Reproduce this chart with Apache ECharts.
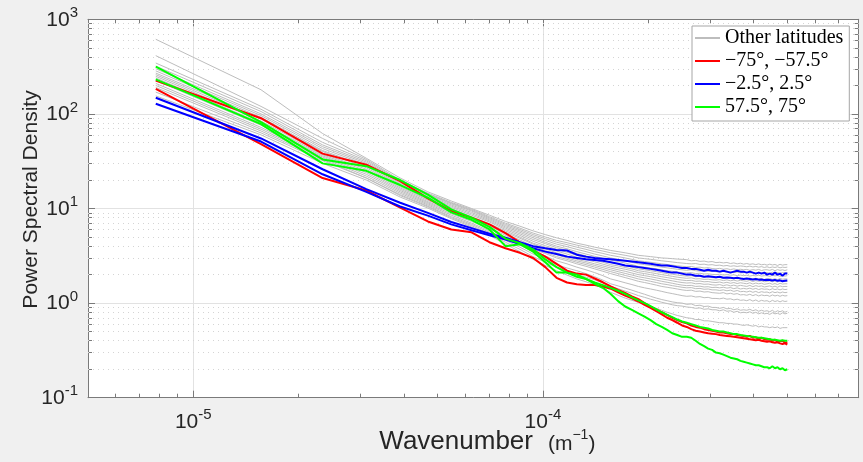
<!DOCTYPE html>
<html><head><meta charset="utf-8">
<script src="https://cdn.jsdelivr.net/npm/echarts@6/dist/echarts.min.js"></script>
<style>html,body{margin:0;padding:0;background:#f0f0f0}#c{width:863px;height:462px}</style>
</head><body><div id="c"></div>
<script>
// Wavenumber, in units of 1e-6 m^-1
const wavenumberMicro = [
 7.8125, 15.625, 23.4375, 31.25, 39.0625, 46.875, 54.6875, 62.5,
 70.3125, 78.125, 85.9375, 93.75, 101.5625, 109.375, 117.1875, 125,
 132.8125, 140.625, 148.4375, 156.25, 164.0625, 171.875, 179.6875, 187.5,
 195.3125, 203.125, 210.9375, 218.75, 226.5625, 234.375, 242.1875, 250,
 257.8125, 265.625, 273.4375, 281.25, 289.0625, 296.875, 304.6875, 312.5,
 320.3125, 328.125, 335.9375, 343.75, 351.5625, 359.375, 367.1875, 375,
 382.8125, 390.625, 398.4375, 406.25, 414.0625, 421.875, 429.6875, 437.5,
 445.3125, 453.125, 460.9375, 468.75, 476.5625, 484.375, 492.1875, 500
];

const gray01 = [615,180,62,34,21,15,12,10, 8.5,7.3,6.5,5.8,5.3,4.9,4.6,4.3, 4.1,3.9,3.75,3.6,3.5,3.4,3.3,3.2, 3.15,3.1,3.05,3.0,2.98,2.95,2.92,2.9, 2.88,2.8,2.83,2.76,2.78,2.72,2.75,2.68, 2.7,2.66,2.69,2.62,2.66,2.6,2.64,2.58, 2.62,2.57,2.6,2.55,2.6,2.54,2.57,2.52, 2.58,2.53,2.56,2.5,2.57,2.52,2.55,2.55];
const gray02 = [413,120,55,33,20,14.5,11.6,9.8, 8.2,7.0,6.2,5.5,5.0,4.6,4.35,4.1, 3.9,3.7,3.55,3.4,3.3,3.2,3.1,3.0, 2.95,2.9,2.85,2.8,2.76,2.72,2.68,2.65, 2.62,2.6,2.62,2.56,2.58,2.53,2.55,2.5, 2.52,2.47,2.5,2.45,2.48,2.44,2.47,2.45, 2.42,2.46,2.41,2.44,2.4,2.43,2.38,2.42, 2.37,2.41,2.38,2.42,2.36,2.4,2.38,2.4];
const gray03 = [345,112,50,32,19.5,14.2,11.4,9.6, 8.0,6.8,6.0,5.3,4.8,4.4,4.15,3.9, 3.7,3.5,3.35,3.2,3.1,3.0,2.9,2.8, 2.75,2.7,2.65,2.6,2.56,2.52,2.48,2.45, 2.42,2.44,2.38,2.4,2.35,2.37,2.32,2.3, 2.33,2.28,2.31,2.26,2.3,2.25,2.28,2.25, 2.27,2.22,2.26,2.23,2.27,2.21,2.25,2.25, 2.22,2.27,2.2,2.26,2.22,2.25,2.21,2.25];
const gray04 = [320,106,47,31,19,14,11.2,9.4, 7.8,6.6,5.8,5.1,4.6,4.2,3.95,3.7, 3.5,3.3,3.15,3.0,2.9,2.8,2.7,2.6, 2.55,2.5,2.45,2.4,2.36,2.32,2.28,2.25, 2.22,2.25,2.2,2.18,2.2,2.16,2.18,2.15, 2.13,2.16,2.12,2.14,2.1,2.13,2.09,2.1, 2.12,2.08,2.11,2.07,2.12,2.1,2.08,2.1, 2.07,2.12,2.08,2.11,2.06,2.1,2.08,2.1];
const gray05 = [300,100,45,30,18.5,13.6,10.9,9.1, 7.6,6.4,5.6,4.9,4.4,4.0,3.75,3.5, 3.3,3.12,2.98,2.85,2.75,2.65,2.55,2.45, 2.4,2.35,2.3,2.25,2.2,2.17,2.13,2.1, 2.08,2.1,2.05,2.07,2.03,2.04,2.01,2.0, 2.02,1.98,2.0,1.97,1.99,1.95,1.98,1.95, 1.97,1.93,1.96,1.94,1.97,1.93,1.95,1.95, 1.92,1.97,1.94,1.96,1.92,1.95,1.93,1.95];
const gray06 = [285,96,43,29,18,13.2,10.6,8.8, 7.4,6.2,5.4,4.7,4.25,3.85,3.6,3.35, 3.15,2.98,2.84,2.7,2.6,2.5,2.4,2.3, 2.25,2.2,2.15,2.1,2.05,2.02,1.98,1.95, 1.93,1.95,1.9,1.92,1.88,1.89,1.86,1.85, 1.87,1.83,1.86,1.82,1.85,1.81,1.84,1.82, 1.8,1.84,1.79,1.83,1.8,1.82,1.78,1.8, 1.82,1.78,1.81,1.77,1.82,1.79,1.8,1.8];
const gray07 = [270,92,41,28,17.5,12.9,10.3,8.5, 7.2,6.0,5.2,4.5,4.05,3.7,3.45,3.2, 3.0,2.85,2.7,2.55,2.47,2.38,2.3,2.2, 2.15,2.1,2.05,2.0,1.96,1.92,1.88,1.85, 1.83,1.85,1.8,1.81,1.78,1.79,1.76,1.75, 1.77,1.73,1.76,1.72,1.75,1.71,1.74,1.72, 1.7,1.74,1.69,1.73,1.7,1.72,1.68,1.7, 1.72,1.68,1.71,1.67,1.72,1.69,1.7,1.7];
const gray08 = [260,88,40,27,17,12.5,10,8.2, 6.9,5.8,5.0,4.3,3.9,3.55,3.3,3.05, 2.88,2.73,2.58,2.45,2.36,2.28,2.2,2.1, 2.05,2.0,1.95,1.9,1.86,1.82,1.78,1.75, 1.73,1.74,1.7,1.71,1.68,1.69,1.66,1.65, 1.67,1.63,1.66,1.62,1.65,1.61,1.64,1.62, 1.6,1.64,1.59,1.63,1.6,1.62,1.58,1.6, 1.62,1.58,1.61,1.57,1.62,1.59,1.6,1.6];
const gray09 = [250,84,38,26,16.5,12.2,9.7,8.0, 6.7,5.6,4.85,4.2,3.75,3.4,3.15,2.9, 2.75,2.6,2.47,2.35,2.25,2.17,2.08,2.0, 1.95,1.9,1.85,1.8,1.76,1.72,1.68,1.65, 1.63,1.64,1.6,1.61,1.58,1.59,1.56,1.55, 1.57,1.53,1.56,1.52,1.55,1.51,1.54,1.52, 1.5,1.54,1.49,1.53,1.5,1.52,1.48,1.5, 1.52,1.48,1.51,1.47,1.52,1.49,1.5,1.5];
const gray10 = [240,80,37,25,16,11.8,9.4,7.7, 6.5,5.4,4.65,4.0,3.6,3.25,3.0,2.8, 2.65,2.5,2.37,2.25,2.15,2.06,1.98,1.9, 1.85,1.8,1.75,1.7,1.66,1.62,1.58,1.55, 1.53,1.54,1.5,1.51,1.48,1.49,1.46,1.47, 1.45,1.47,1.44,1.46,1.42,1.45,1.41,1.43, 1.41,1.44,1.4,1.43,1.39,1.42,1.4,1.41, 1.38,1.42,1.39,1.41,1.38,1.41,1.39,1.4];
const gray11 = [225,76,36,24,15.5,11.5,9.1,7.5, 6.3,5.2,4.45,3.8,3.45,3.1,2.9,2.7, 2.55,2.4,2.27,2.15,2.05,1.96,1.88,1.8, 1.75,1.7,1.65,1.6,1.57,1.53,1.5,1.47, 1.45,1.46,1.42,1.43,1.4,1.41,1.38,1.38, 1.36,1.38,1.35,1.37,1.33,1.36,1.32,1.33, 1.31,1.34,1.3,1.33,1.29,1.32,1.3,1.31, 1.28,1.32,1.29,1.31,1.28,1.31,1.29,1.3];
const gray12 = [210,72,35,23,15,11.2,8.8,7.3, 6.1,5.0,4.3,3.7,3.35,3.0,2.8,2.6, 2.45,2.3,2.17,2.05,1.95,1.86,1.78,1.7, 1.65,1.6,1.55,1.5,1.47,1.44,1.41,1.38, 1.36,1.37,1.33,1.34,1.31,1.32,1.29,1.28, 1.27,1.29,1.25,1.27,1.24,1.26,1.22,1.23, 1.21,1.24,1.2,1.23,1.19,1.22,1.2,1.21, 1.18,1.22,1.19,1.21,1.18,1.21,1.19,1.2];
const gray13 = [200,69,34,22,14.5,10.9,8.5,7.0, 5.8,4.8,4.1,3.5,3.15,2.8,2.6,2.4, 2.25,2.1,1.95,1.8,1.72,1.64,1.57,1.5, 1.45,1.41,1.37,1.33,1.29,1.26,1.23,1.2, 1.18,1.19,1.16,1.17,1.14,1.15,1.12,1.12, 1.11,1.13,1.1,1.11,1.08,1.1,1.07,1.08, 1.06,1.09,1.05,1.08,1.04,1.07,1.05,1.06, 1.03,1.07,1.04,1.06,1.03,1.06,1.04,1.05];
const gray14 = [190,66,33,21,14,10.6,8.2,6.8, 5.6,4.6,3.9,3.3,2.9,2.55,2.35,2.2, 2.05,1.9,1.75,1.6,1.52,1.44,1.37,1.3, 1.24,1.18,1.13,1.09,1.06,1.03,1.01,1.0, 0.97,0.98,0.94,0.95,0.92,0.93,0.9,0.9, 0.88,0.9,0.87,0.88,0.85,0.87,0.84,0.85, 0.84,0.86,0.83,0.85,0.82,0.84,0.82,0.83, 0.81,0.84,0.8,0.83,0.81,0.83,0.8,0.82];
const gray15 = [170,63,32,21,13.7,10.4,8.0,6.6, 5.4,4.4,3.7,3.1,2.7,2.4,2.2,2.0, 1.88,1.76,1.63,1.5,1.42,1.34,1.27,1.2, 1.15,1.1,1.06,1.02,0.99,0.96,0.94,0.93, 0.91,0.9,0.88,0.89,0.86,0.87,0.85,0.85, 0.83,0.85,0.82,0.83,0.8,0.82,0.79,0.8, 0.79,0.81,0.78,0.8,0.77,0.79,0.77,0.78, 0.76,0.79,0.77,0.78,0.76,0.79,0.77,0.78];
const gray16 = [155,60,30,20,13.2,10.1,7.8,6.4, 5.2,4.2,3.5,2.9,2.5,2.2,1.98,1.8, 1.68,1.56,1.43,1.3,1.21,1.13,1.07,1.02, 0.97,0.92,0.88,0.84,0.8,0.77,0.74,0.72, 0.7,0.69,0.67,0.67,0.65,0.65,0.64,0.63, 0.62,0.62,0.61,0.61,0.6,0.6,0.59,0.58, 0.59,0.58,0.57,0.58,0.56,0.57,0.56,0.56, 0.55,0.56,0.55,0.56,0.54,0.55,0.55,0.55];

// -75°, -57.5°
const redA = [225,90,38,29,19.5,12.8,9.4,8.0, 6.8,5.5,4.4,3.6,3.1,2.6,2.2,2.05, 2.0,1.82,1.66,1.5,1.38,1.28,1.18,1.1, 1.0,0.92,0.86,0.8,0.75,0.7,0.66,0.63, 0.61,0.58,0.56,0.55,0.53,0.52,0.51,0.5, 0.49,0.49,0.48,0.47,0.47,0.46,0.455,0.45, 0.44,0.45,0.43,0.435,0.42,0.43,0.415,0.41, 0.415,0.4,0.41,0.39,0.395,0.4,0.38,0.385];
const redB = [184,48,21,15.5,10.2,7.3,6.0,5.6, 4.4,3.8,3.4,3.0,2.4,1.85,1.65,1.58, 1.55,1.55,1.5,1.42,1.3,1.2,1.12,1.04, 0.96,0.89,0.82,0.76,0.7,0.66,0.62,0.58, 0.56,0.53,0.51,0.5,0.49,0.48,0.475,0.47, 0.46,0.455,0.45,0.445,0.44,0.435,0.43,0.425, 0.42,0.415,0.41,0.405,0.41,0.4,0.395,0.39, 0.395,0.385,0.38,0.385,0.375,0.37,0.375,0.365];
// -2.5°, 2.5°
const blueA = [148,55,26,16,11.5,9.0,7.2,6.2, 5.4,4.9,4.4,4.0,3.8,3.65,3.6,3.25, 3.1,3.0,2.95,2.9,2.85,2.8,2.75,2.7, 2.65,2.6,2.55,2.5,2.5,2.45,2.4,2.35, 2.35,2.3,2.3,2.25,2.2,2.25,2.2,2.2, 2.15,2.2,2.15,2.1,2.15,2.2,2.15,2.15, 2.1,2.15,2.1,2.05,2.1,2.05,2.1,2.0, 2.05,2.0,2.1,2.0,2.05,1.95,2.05,2.05];
const blueB = [128,51,23,15,10.5,8.4,6.8,5.9, 5.2,4.7,4.2,3.8,3.5,3.3,3.1,3.0, 2.9,2.85,2.8,2.7,2.6,2.5,2.45,2.4, 2.35,2.3,2.25,2.2,2.15,2.1,2.1,2.05, 2.0,2.0,1.95,1.95,1.9,1.92,1.9,1.88, 1.9,1.85,1.87,1.85,1.83,1.85,1.82,1.8, 1.82,1.8,1.78,1.8,1.77,1.78,1.75,1.77, 1.75,1.73,1.76,1.72,1.74,1.7,1.72,1.73];
// 57.5°, 75°
const greenA = [316,82,33,28,20,14,9.8,8.0, 6.4,4.8,4.3,3.7,2.9,2.4,2.1,1.9, 1.8,1.65,1.55,1.45,1.35,1.25,1.15,1.07, 1.0,0.93,0.86,0.8,0.75,0.71,0.67,0.64, 0.62,0.6,0.58,0.56,0.55,0.54,0.52,0.51, 0.5,0.5,0.49,0.48,0.47,0.47,0.46,0.455, 0.45,0.445,0.44,0.435,0.43,0.43,0.425,0.42, 0.415,0.41,0.41,0.405,0.4,0.405,0.4,0.4];
const greenB = [232,78,30,25,17.7,13,9.1,7.6, 6.0,4.0,4.2,3.5,2.7,2.1,2.1,2.0, 1.8,1.6,1.45,1.25,1.05,0.92,0.85,0.78, 0.72,0.66,0.6,0.56,0.52,0.48,0.46,0.44, 0.44,0.43,0.4,0.37,0.35,0.33,0.32,0.3, 0.295,0.285,0.275,0.265,0.26,0.255,0.245,0.24, 0.235,0.23,0.225,0.22,0.22,0.215,0.21,0.21, 0.205,0.215,0.205,0.21,0.2,0.205,0.195,0.2];

const otherLatitudes = [gray01,gray02,gray03,gray04,gray05,gray06,gray07,gray08,gray09,gray10,gray11,gray12,gray13,gray14,gray15,gray16];

const legendNames = ['Other latitudes', '\u221275\u00b0, \u221257.5\u00b0', '\u22122.5\u00b0, 2.5\u00b0', '57.5\u00b0, 75\u00b0'];
const xRange = [5e-6, 8e-4];
const yRange = [0.1, 1000];
const xMinorTicks = [6e-6,7e-6,8e-6,9e-6,2e-5,3e-5,4e-5,5e-5,6e-5,7e-5,8e-5,9e-5,2e-4,3e-4,4e-4,5e-4,6e-4,7e-4];
const yMinorTicks = [0.2,0.3,0.4,0.5,0.6,0.7,0.8,0.9,2,3,4,5,6,7,8,9,20,30,40,50,60,70,80,90,200,300,400,500,600,700,800,900];

const FONT = 'Liberation Sans';
const TXT = '#262626';
const AX = '#7a7a7a';
const richX = {
  b: {fontFamily: FONT, fontSize: 21, lineHeight: 22, color: TXT, verticalAlign: 'bottom'},
  s: {fontFamily: FONT, fontSize: 15, lineHeight: 15, color: TXT, padding: [0,0,10,0], verticalAlign: 'bottom'}
};
const richY = {
  b: {fontFamily: FONT, fontSize: 21, lineHeight: 22, color: TXT, verticalAlign: 'bottom'},
  s: {fontFamily: FONT, fontSize: 15, lineHeight: 15, color: TXT, padding: [9,0,10,0], verticalAlign: 'bottom'}
};
function powLabel(v) {
  const e = Math.log10(v);
  const r = Math.round(e);
  if (Math.abs(e - r) > 1e-6) return '';
  return '{b|10}{s|' + r + '}';
}
function toPairs(vals) { return wavenumberMicro.map((w, i) => [w * 1e-6, vals[i]]); }

function mainAxis(kind, pos, showLabel, extra) {
  const range = kind === 'x' ? xRange : yRange;
  return Object.assign({
    type: 'log', logBase: 10, min: range[0], max: range[1], position: pos,
    axisLine: {show: true, onZero: false, lineStyle: {color: AX, width: 1}},
    axisTick: {show: true, inside: true, length: 7, lineStyle: {color: AX, width: 1}},
    axisLabel: showLabel ? {show: true, formatter: powLabel, rich: kind === 'x' ? richX : richY,
                             margin: kind === 'x' ? 13 : 10,
                             showMinLabel: true, showMaxLabel: true, hideOverlap: false} : {show: false},
    splitLine: {show: false},
    minorTick: {show: false}
  }, extra || {});
}
function minorAxis(kind, pos) {
  const range = kind === 'x' ? xRange : yRange;
  return {
    type: 'log', logBase: 10, min: range[0], max: range[1], position: pos,
    axisLine: {show: false},
    axisTick: {show: true, inside: true, length: 4, lineStyle: {color: AX, width: 1},
               customValues: kind === 'x' ? xMinorTicks : yMinorTicks},
    axisLabel: {show: false},
    splitLine: {show: false}
  };
}

const series = [];
otherLatitudes.forEach((vals, i) => {
  const s = {
    type: 'line', name: legendNames[0], xAxisIndex: 0, yAxisIndex: 0,
    data: toPairs(vals), symbol: 'none', showSymbol: false, z: 3,
    lineStyle: {color: '#bdbdbd', width: 1}, itemStyle: {color: '#bdbdbd'},
    silent: true, animation: false
  };
  if (i === 0) {
    s.markLine = {
      silent: true, symbol: ['none','none'], animation: false, z: 1,
      label: {show: false}, emphasis: {disabled: true},
      lineStyle: {color: '#d4d4d4', width: 1, type: [1, 4]},
      data: xMinorTicks.map(v => ({xAxis: v})).concat(yMinorTicks.map(v => ({yAxis: v})))
    };
  }
  series.push(s);
});
[[redA, 1, '#ff0000'], [redB, 1, '#ff0000'], [blueA, 2, '#0000ff'], [blueB, 2, '#0000ff'],
 [greenA, 3, '#00ff00'], [greenB, 3, '#00ff00']].forEach(([vals, li, col]) => {
  series.push({
    type: 'line', name: legendNames[li], xAxisIndex: 0, yAxisIndex: 0,
    data: toPairs(vals), symbol: 'none', showSymbol: false, z: 4,
    lineStyle: {color: col, width: 2}, itemStyle: {color: col},
    silent: true, animation: false
  });
});

const option = {
  backgroundColor: '#f0f0f0',
  animation: false,
  grid: {left: 88, right: 4.3, top: 19.3, bottom: 64.3, show: true, backgroundColor: '#ffffff',
         borderWidth: 0, containLabel: false, outerBoundsMode: 'none'},
  legend: {
    data: legendNames, orient: 'vertical', left: 692, top: 26,
    icon: 'rect', itemWidth: 25, itemHeight: 2, itemGap: 3,
    padding: [2, 6, 4, 3], backgroundColor: '#ffffff', borderColor: '#a6a6a6', borderWidth: 1, borderRadius: 0,
    textStyle: {fontFamily: 'Liberation Serif', fontSize: 20, lineHeight: 20, color: '#000'},
    selectedMode: false
  },
  xAxis: [
    mainAxis('x', 'bottom', true, {
      splitLine: {show: true, lineStyle: {color: '#e2e2e2', width: 1}},
      name: '{n|Wavenumber}{g|}{m|(m}{s|\u22121}{m|)}', nameLocation: 'middle', nameGap: 29,
      nameMoveOverlap: false,
      nameTextStyle: {color: TXT, padding: [0, 0, 0, 28], rich: {
        n: {fontFamily: FONT, fontSize: 26, lineHeight: 28, color: TXT, verticalAlign: 'bottom'},
        g: {width: 15, lineHeight: 28},
        m: {fontFamily: FONT, fontSize: 21, lineHeight: 27, color: TXT, verticalAlign: 'bottom'},
        s: {fontFamily: FONT, fontSize: 14, lineHeight: 14, color: TXT, padding: [0,0,13,0], verticalAlign: 'bottom'}
      }}
    }),
    mainAxis('x', 'top', false),
    minorAxis('x', 'bottom'),
    minorAxis('x', 'top')
  ],
  yAxis: [
    mainAxis('y', 'left', true, {
      splitLine: {show: true, lineStyle: {color: '#e2e2e2', width: 1}},
      name: 'Power Spectral Density', nameLocation: 'middle', nameGap: 46, nameRotate: 90,
      nameMoveOverlap: false,
      nameTextStyle: {fontFamily: FONT, fontSize: 21, color: TXT, padding: [0, 0, 0, 18]}
    }),
    mainAxis('y', 'right', false),
    minorAxis('y', 'left'),
    minorAxis('y', 'right')
  ],
  series: series
};
const chart = echarts.init(document.getElementById('c'), null, {renderer: 'canvas'});
chart.setOption(option);
</script>
</body></html>
